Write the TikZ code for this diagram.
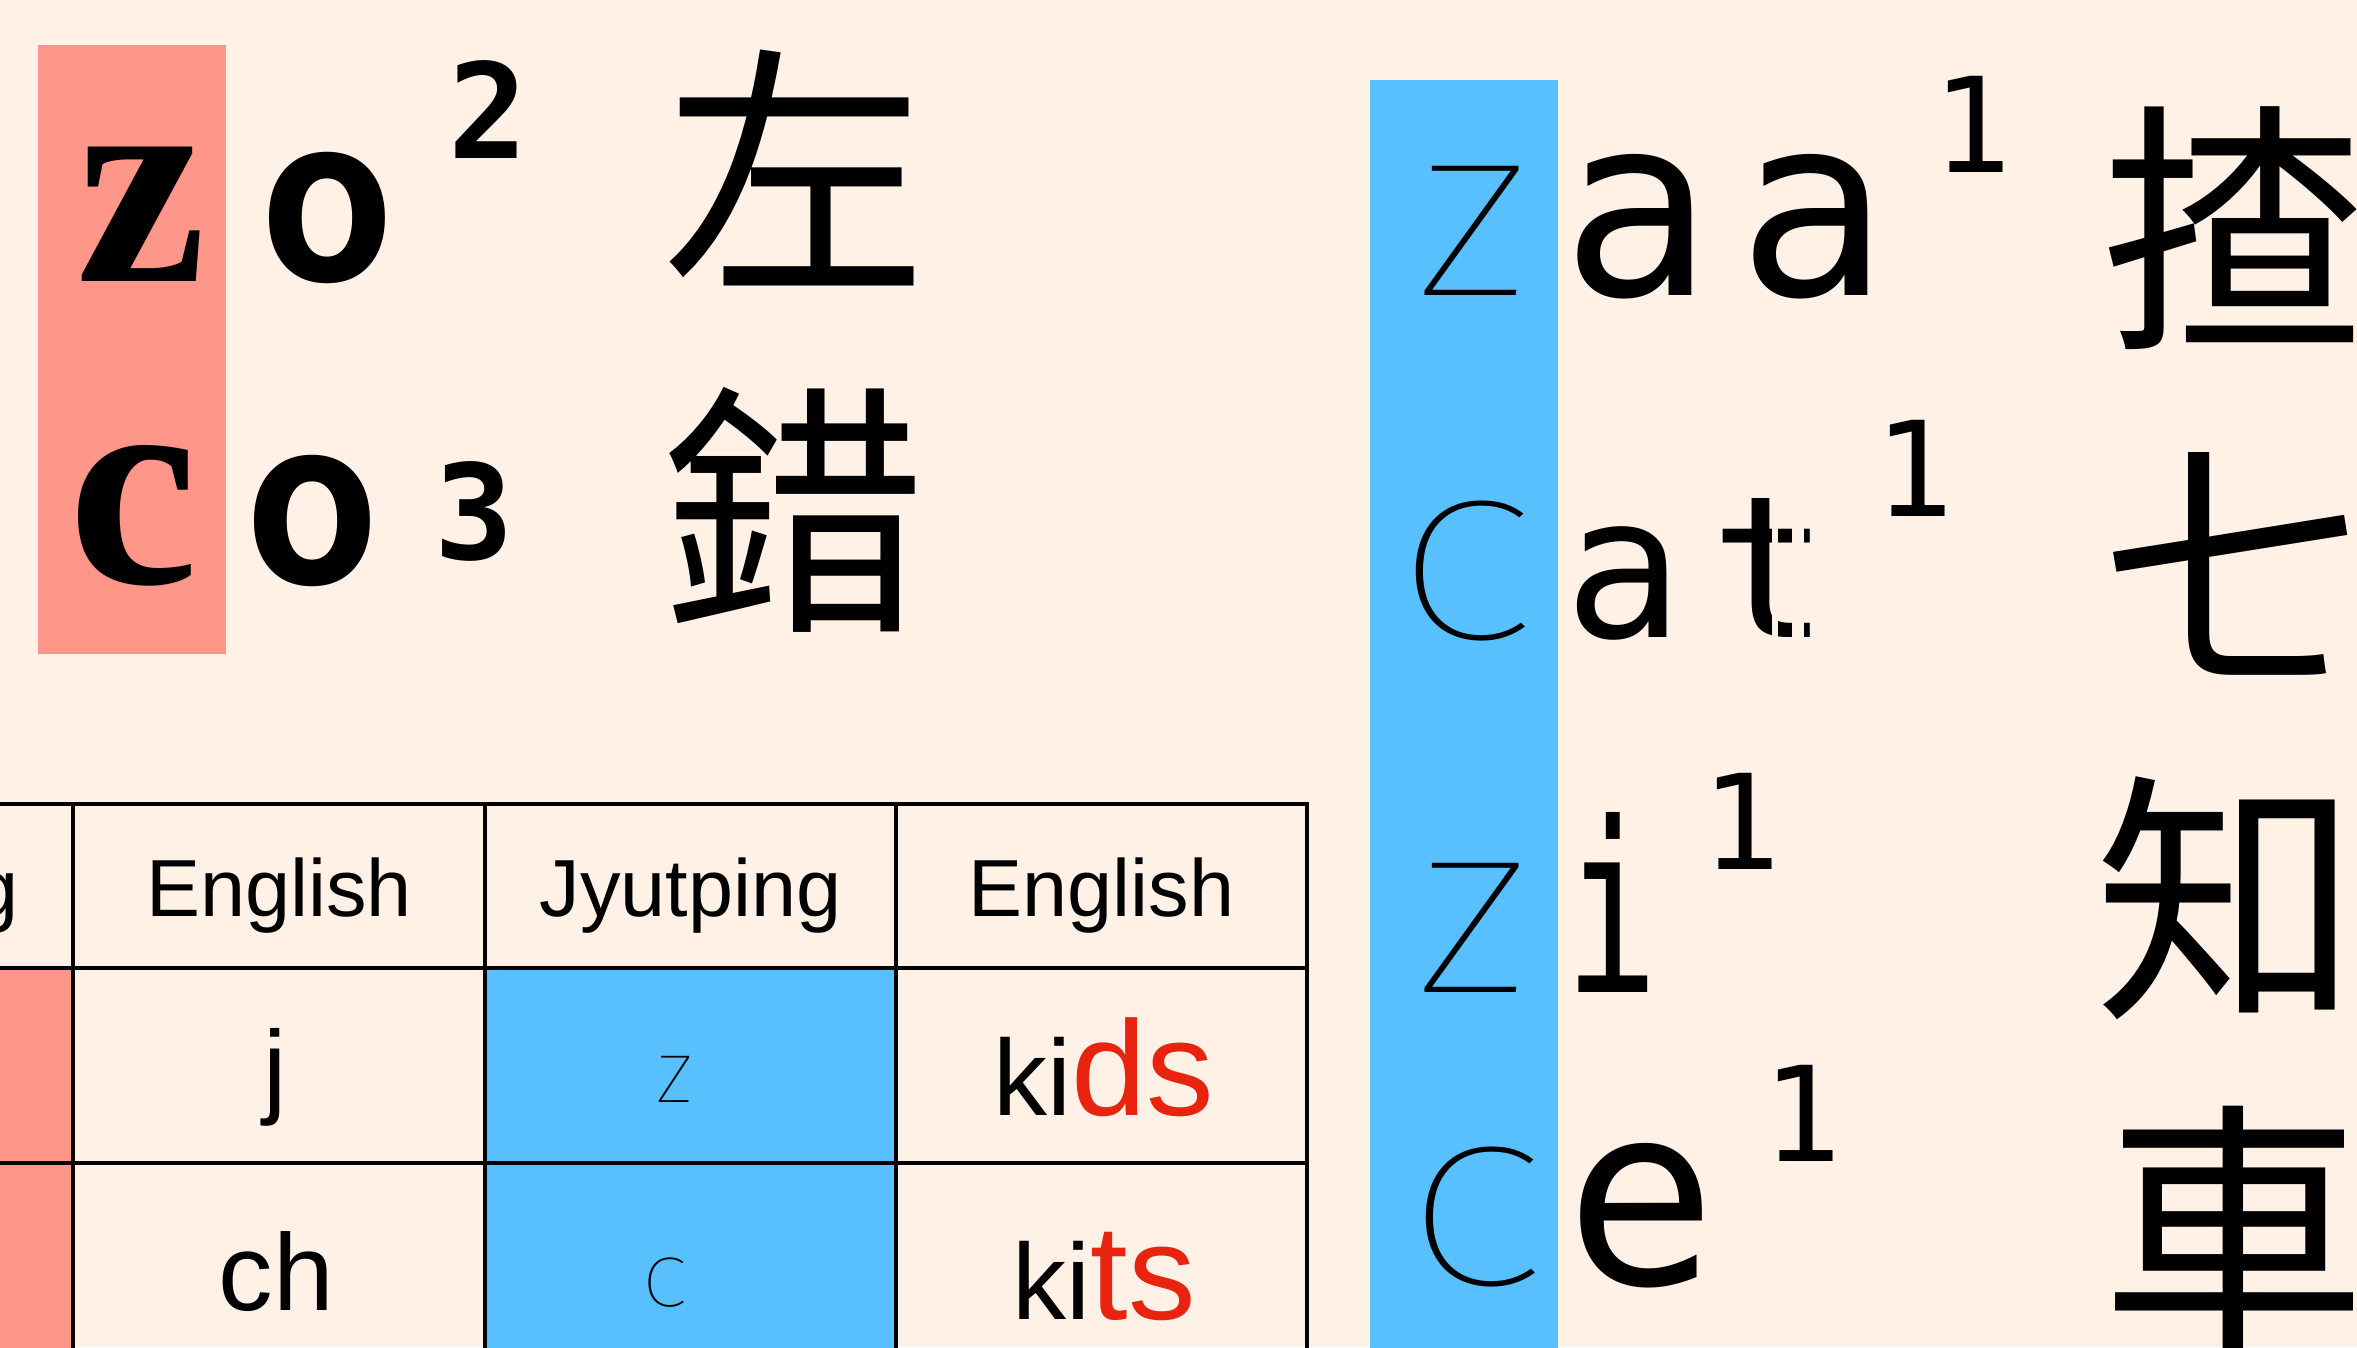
\documentclass[tikz,border=0pt]{standalone}
\usepackage{fontspec}
\setmainfont{Liberation Sans}
\newfontfamily\cjkf{Noto Sans CJK TC}
\newfontfamily\serf{Liberation Serif}
\newfontfamily\monof{DejaVu Sans Mono}
\newcommand\monobf{\monof\bfseries}
\newcommand\trythin[2]{\IfFontExistsTF{#1}{\newfontfamily\thinf{#1}}{#2}}
\trythin{FiraSans-Thin.otf}{\trythin{Fira Sans Thin}{\trythin{Lato Hairline}{\trythin{Lato Thin}{\trythin{Poppins Thin}{\trythin{Poppins-Thin.otf}{\trythin{Noto Sans CJK TC Thin}{\trythin{Noto Sans CJK TC Light}{\trythin{DejaVu Sans ExtraLight}{\newfontfamily\thinf{DejaVu Sans}}}}}}}}}}
\newcommand\fsz[1]{\fontsize{#1}{#1}\selectfont}
\definecolor{bgc}{RGB}{255,241,229}
\definecolor{pinkc}{RGB}{255,150,138}
\definecolor{bluec}{RGB}{88,192,255}
\definecolor{redc}{RGB}{232,35,15}
\begin{document}
\begin{tikzpicture}[x=1pt,y=-1pt,
  txt/.style={inner sep=0pt,outer sep=0pt},
  grid/.style={line width=4pt,black}]
\useasboundingbox (0,0) rectangle (2357,1347);
\fill[bgc] (0,0) rectangle (2357,1347);
\begin{scope}
\clip (0,0) rectangle (2357,1347);
% colour bands
\fill[pinkc] (38,45) rectangle (226,654);
\fill[bluec] (1370,80) rectangle (1558,1360);
% table cells
\fill[pinkc] (-20,968) rectangle (73,1360);
\fill[bluec] (485,968) rectangle (896,1360);
% table grid
\draw[grid] (-20,804) -- (1309,804);
\draw[grid] (-20,968) -- (1309,968);
\draw[grid] (-20,1163) -- (1309,1163);
\foreach \gx in {73,485,896,1307} {\draw[grid] (\gx,802) -- (\gx,1360);}
% table texts
\node[txt,anchor=base] (h1) at (-132.5,916) {\fsz{81}Jyutping};
\node[txt,anchor=base] (h2) at (279,916) {\fsz{81}English};
\node[txt,anchor=base] (h3) at (690.5,916) {\fsz{81}Jyutping};
\node[txt,anchor=base] (h4) at (1101.5,916) {\fsz{81}English};
\node[txt,anchor=base] (ej) at (275,1104) {\fsz{105}j};
\node[txt,anchor=base] (ech) at (276.5,1310) {\fsz{109}ch};
\node[txt,anchor=base] (jz) at (675,1102) {\thinf\fsz{89}z};
\node[txt,anchor=base] (jc) at (665,1306) {\thinf\fsz{92}\scalebox{1.1}[1]{c}};
\node[txt,anchor=base] (kids) at (1104,1115) {\fsz{108}ki\fsz{135}\color{redc}ds};
\node[txt,anchor=base] (kits) at (1104,1319) {\fsz{108}ki\fsz{135}\color{redc}ts};
% left block
\node[txt,anchor=base] (pz) at (141.5,281) {\serf\bfseries\fsz{293}z};
\node[txt,anchor=base] (pc) at (134,583) {\serf\bfseries\fsz{293}c};
\node[txt,anchor=base] (o1) at (327.5,280) {\monobf\fsz{229}o};
\node[txt,anchor=base] (o2) at (312,583) {\monobf\fsz{229}o};
\node[txt,anchor=base] (n2) at (488.5,158) {\monobf\fsz{132}2};
\node[txt,anchor=base] (n3) at (474,559) {\monobf\fsz{132}3};
\node[txt] (zuo) at (794.5,168) {\cjkf\fsz{265}左};
\node[txt] (cok) at (794,509.5) {\cjkf\fsz{265}錯};
% right block
\node[txt,anchor=base] (bz1) at (1472.5,295) {\thinf\fsz{249}\scalebox{1.1}[1]{z}};
\node[txt,anchor=base] (bc1) at (1465.5,638) {\thinf\fsz{260}\scalebox{1.2}[1]{c}};
\node[txt,anchor=base] (bz2) at (1473,992) {\thinf\fsz{249}\scalebox{1.1}[1]{z}};
\node[txt,anchor=base] (bc2) at (1476,1284) {\thinf\fsz{260}\scalebox{1.2}[1]{c}};
\node[txt,anchor=base] (aa) at (1725.5,295) {\monof\fsz{252}a\kern24pt a};
\node[txt,anchor=base] (at) at (1697,637) {\monof\fsz{198}a\kern27pt t};
\node[txt,anchor=base] (ii) at (1611.5,992) {\monof\fsz{237}\scalebox{0.65}[1]{i}};
\node[txt,anchor=base] (ee) at (1641,1284) {\monof\fsz{252}e};
\node[txt,anchor=base] (r1) at (1972.5,172) {\monof\fsz{132}1};
\node[txt,anchor=base] (r2) at (1914.5,516) {\monof\fsz{132}1};
\node[txt,anchor=base] (r3) at (1741.5,869) {\monof\fsz{132}1};
\node[txt,anchor=base] (r4) at (1802,1161) {\monof\fsz{132}1};
% broken right half of the t
\fill[bgc] (1772,505) rectangle (1778,650);
\fill[bgc] (1792,505) rectangle (1804,650);
\node[txt] (zaa) at (2232,228.5) {\cjkf\fsz{265}揸};
\node[txt] (cat) at (2233,563.5) {\cjkf\fsz{265}七};
\node[txt] (zi) at (2227,898.5) {\cjkf\fsz{265}知};
\node[txt] (ce) at (2233.5,1228.5) {\cjkf\fsz{265}車};
\end{scope}
\end{tikzpicture}
\end{document}
